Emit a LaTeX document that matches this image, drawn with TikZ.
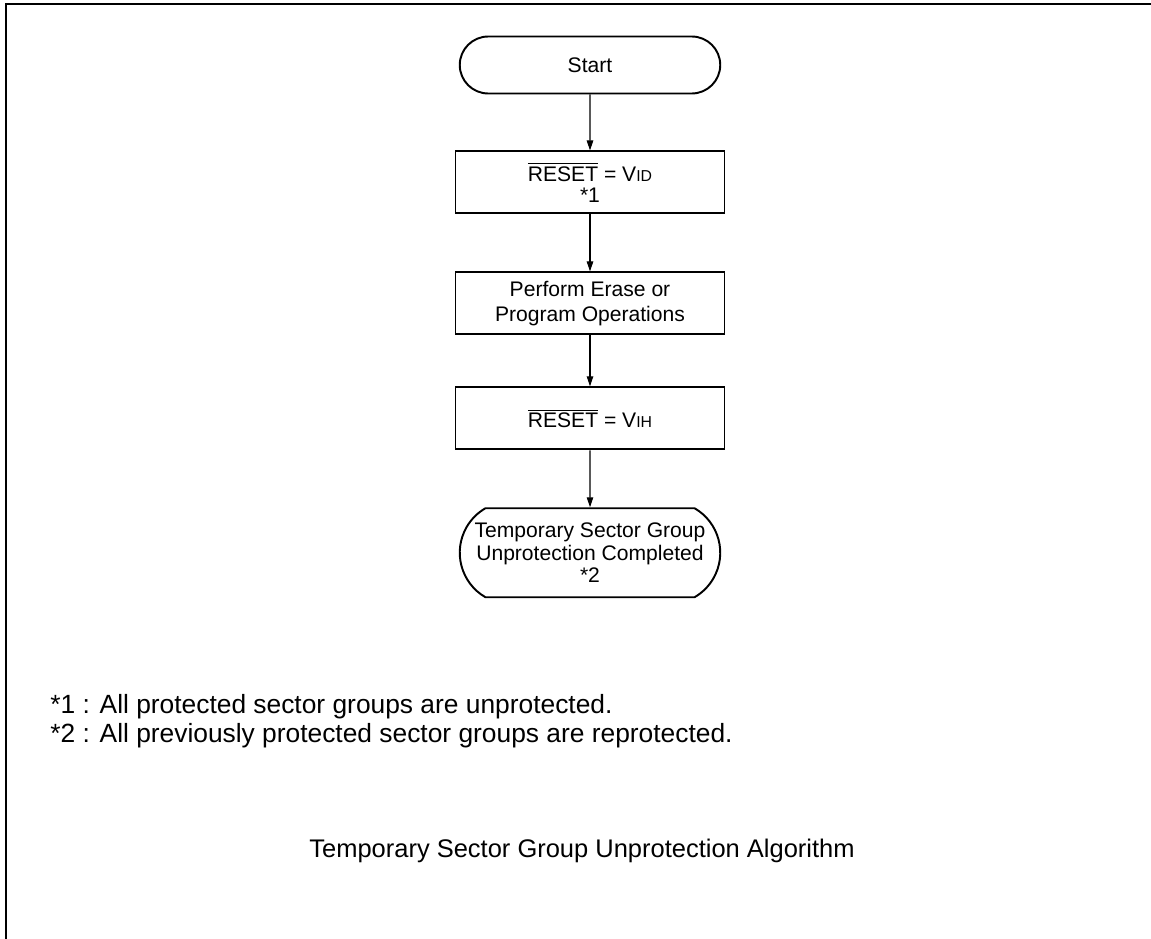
\documentclass[tikz,border=0pt]{standalone}
\usepackage{fontspec}
\setmainfont{Liberation Sans}
\usetikzlibrary{arrows.meta, positioning, shapes.misc}
\newcommand{\rstbar}{$\overline{\mbox{RESET}}$}
\newcommand{\vsub}[1]{{\fontsize{9}{9}\selectfont #1}}

\begin{document}
\begin{tikzpicture}[
  node distance=1.15cm,
  term/.style={rounded rectangle, draw, line width=1.1pt, align=center,
               minimum width=5.28cm, inner sep=1pt, font=\fontsize{12}{12.8}\selectfont},
  box/.style={rectangle, draw, line width=1.1pt, align=center,
              minimum width=5.38cm, minimum height=1.24cm, font=\fontsize{12}{14.2}\selectfont},
  arrow/.style={-{Triangle[length=2mm, width=1.3mm]}, line width=0.6pt}
]
\useasboundingbox (0,0) rectangle (23.02,18.78);
\draw[line width=1.7pt] (0.12,0) -- (0.12,18.70) -- (23.02,18.70);

\node[term, minimum height=1.14cm] (start) at (11.8,17.48) {Start};
\node[box, font=\fontsize{12}{12}\selectfont, below=1.12cm of start] (setvid) {\rstbar{} = V\vsub{ID}\\*1};
\node[box, below=1.14cm of setvid] (perform) {Perform Erase or\\Program Operations};
\node[box, below=1.02cm of perform] (setvih) {\rstbar{} = V\vsub{IH}};
\node[term, rounded rectangle arc length=120, minimum height=1.78cm, below=1.14cm of setvih] (done)
  {Temporary Sector Group\\Unprotection Completed\\*2};

\draw[arrow] (start) -- (setvid);
\draw[arrow] (setvid) -- (perform);
\draw[arrow] (perform) -- (setvih);
\draw[arrow] (setvih) -- (done);

% notes and title
\node[align=left, anchor=west, inner sep=0pt, font=\fontsize{15}{16.2}\selectfont] (notes) at (1.0,4.36)
  {*1 : All protected sector groups are unprotected.\\
   *2 : All previously protected sector groups are reprotected.};
\node[font=\fontsize{14.5}{15}\selectfont] (title) at (11.64,1.76)
  {Temporary Sector Group Unprotection Algorithm};
\end{tikzpicture}
\end{document}
